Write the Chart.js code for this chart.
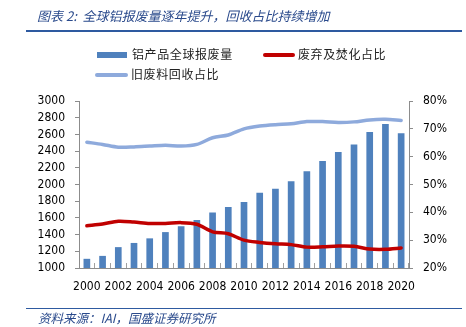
<!DOCTYPE html>
<html><head><meta charset="utf-8">
<script src="https://cdn.jsdelivr.net/npm/chart.js@4.4.1/dist/chart.umd.min.js"></script>
<style>
html,body{margin:0;padding:0;width:466px;height:327px;overflow:hidden;background:#fff;}
#wrap{position:relative;width:466px;height:327px;}
#c{position:absolute;left:0;top:0;}
.title{position:absolute;left:37px;top:7px;font:italic 13px "Noto Sans CJK SC";color:#2a4a8c;white-space:nowrap;line-height:18px;}
.hr{position:absolute;left:26px;width:436px;background:#2e5aa0;}
.foot{position:absolute;left:38px;top:309px;font:italic 12.5px "Noto Sans CJK SC";color:#2a4a8c;white-space:nowrap;line-height:17px;}
.lg{position:absolute;font:12px "Noto Sans CJK SC";color:#222;white-space:nowrap;line-height:16px;letter-spacing:0.6px;}
.sw{position:absolute;}
</style></head>
<body><div id="wrap">
<canvas id="c" width="466" height="327"></canvas>
<div class="title">图表 2:&nbsp; 全球铝报废量逐年提升，回收占比持续增加</div>
<div class="hr" style="top:30px;height:2px;"></div>
<div id="legend"></div>
<div class="hr" style="top:308px;height:1px;"></div>
<div class="foot">资料来源：IAI，国盛证券研究所</div>
</div>
<script>
const years = ['2000','2001','2002','2003','2004','2005','2006','2007','2008','2009','2010','2011','2012','2013','2014','2015','2016','2017','2018','2019','2020'];
const scrapVolume = [1110,1145,1250,1300,1355,1430,1500,1575,1665,1730,1790,1900,1950,2040,2160,2280,2390,2480,2630,2725,2615];
const landfillShare = [35.2,35.8,36.8,36.5,36.0,36.0,36.3,35.7,33.0,32.3,30.0,29.2,28.7,28.4,27.5,27.6,27.9,27.8,26.8,26.7,27.2];
const recycledShare = [65.2,64.4,63.4,63.5,63.8,64.1,63.8,64.4,66.8,67.8,70.0,71.0,71.5,71.8,72.6,72.6,72.3,72.5,73.2,73.4,73.0];
const seriesNames = ['铝产品全球报废量','废弃及焚化占比','旧废料回收占比'];
const leftAxis = {min:1000, max:3000, step:200};
const rightAxis = {min:20, max:80, step:10};

const tickFont = {family:'"DejaVu Sans Condensed","DejaVu Sans","Liberation Sans"', size:12};
const axisGrey = '#8c8c8c';

const chart = new Chart(document.getElementById('c'), {
  data: {
    labels: years,
    datasets: [
      {type:'line', label:seriesNames[1], data:landfillShare, yAxisID:'y1', borderColor:'#c00000', borderWidth:3.5, pointRadius:0, tension:0.3, order:0, borderCapStyle:'round'},
      {type:'line', label:seriesNames[2], data:recycledShare, yAxisID:'y1', borderColor:'#8eaadc', borderWidth:3.5, pointRadius:0, tension:0.3, order:0, borderCapStyle:'round'},
      {type:'bar', label:seriesNames[0], data:scrapVolume, yAxisID:'y', backgroundColor:'#4f81bd', barPercentage:0.85, categoryPercentage:0.5, order:1}
    ]
  },
  options: {
    responsive:false, animation:false,
    layout:{padding:{top:101,bottom:0,left:0,right:0}},
    plugins:{legend:{display:false}, tooltip:{enabled:false}},
    scales:{
      x:{
        offset:true,
        grid:{display:true, drawOnChartArea:false, drawTicks:true, tickLength:-5, offset:true, color:'#a0a0a0'},
        border:{color:axisGrey},
        ticks:{autoSkip:false, maxRotation:0, minRotation:0, padding:17, color:'#000', font:tickFont,
          callback:(v,i)=> i%2===0 ? years[i] : ''},
        afterFit:s=>{s.height=59;}
      },
      y:{
        position:'left', min:leftAxis.min, max:leftAxis.max,
        grid:{drawOnChartArea:false, tickLength:4, color:axisGrey},
        border:{color:axisGrey},
        ticks:{stepSize:leftAxis.step, autoSkip:false, padding:10, color:'#000', font:tickFont, callback:v=>String(v)},
        afterFit:s=>{s.width=79;}
      },
      y1:{
        position:'right', min:rightAxis.min, max:rightAxis.max,
        grid:{drawOnChartArea:false, tickLength:4, color:axisGrey},
        border:{color:axisGrey},
        ticks:{stepSize:rightAxis.step, autoSkip:false, padding:10, color:'#000', font:tickFont, callback:v=>v+'%'},
        afterFit:s=>{s.width=57;}
      }
    }
  }
});

// HTML legend built from the chart's datasets
const lg = document.getElementById('legend');
const slots = [{ds:2, x:97, y:55, w:30, box:true},{ds:0, x:263, y:55, w:32},{ds:1, x:95, y:75, w:33}];
slots.forEach(s=>{
  const d = chart.data.datasets[s.ds];
  const sw = document.createElement('div');
  sw.className='sw';
  const h = s.box ? 6 : 3.5;
  sw.style.cssText = `left:${s.x}px;top:${s.y-h/2}px;width:${s.w}px;height:${h}px;background:${s.box?d.backgroundColor:d.borderColor};` + (s.box?'':'border-radius:2px;');
  lg.appendChild(sw);
  const t = document.createElement('div');
  t.className='lg';
  t.textContent = d.label;
  t.style.left = (s.x + s.w + (s.box?5:3)) + 'px';
  t.style.top = (s.y - 9) + 'px';
  lg.appendChild(t);
});
</script>
</body></html>
